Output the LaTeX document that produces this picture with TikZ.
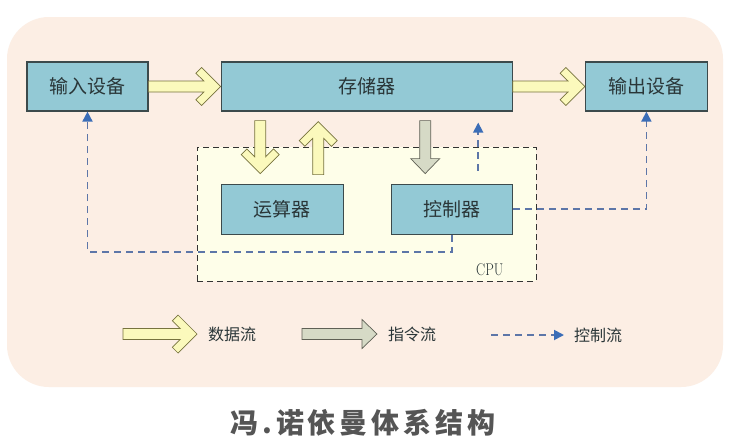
\documentclass[tikz,border=0pt]{standalone}
\usepackage{fontspec}
\usetikzlibrary{positioning, arrows.meta, calc}
\newfontfamily\cjk{Noto Sans CJK SC}
\newfontfamily\titlefont[LetterSpace=14]{Noto Sans CJK SC}
\definecolor{bgpeach}{HTML}{FCEEE4}
\definecolor{cpufill}{HTML}{FEFEE9}
\definecolor{boxblue}{HTML}{93C9D5}
\definecolor{boxline}{HTML}{3C4A4C}
\definecolor{textmain}{HTML}{2A3638}
\definecolor{yfill}{HTML}{FBF9BC}
\definecolor{yline}{HTML}{77733E}
\definecolor{gfill}{HTML}{D6DAC6}
\definecolor{gline}{HTML}{5F6055}
\definecolor{ctrlline}{HTML}{5D76A8}
\definecolor{ctrltip}{HTML}{3B6DB7}
\definecolor{titlegray}{HTML}{555555}

% chevron arrow (data flow) from #1 to #2
\newcommand{\dataflow}[2]{%
  \draw[yflow] let \p1=($(#2)-(#1)$), \n1={veclen(\x1,\y1)}, \n2={atan2(\y1,\x1)} in
    [shift={(#1)}, rotate=\n2]
    (0pt,5.5pt) -- ({\n1-16.8pt},5.5pt) -- ({\n1-24.7pt},13.3pt) -- ({\n1-19pt},19pt)
    -- ({\n1+0pt},0pt) -- ({\n1-19pt},-19pt) -- ({\n1-24.7pt},-13.3pt)
    -- ({\n1-16.8pt},-5.5pt) -- (0pt,-5.5pt) -- cycle;}
% block arrow (instruction flow) from #1 to #2
\newcommand{\instflow}[2]{%
  \draw[gflow] let \p1=($(#2)-(#1)$), \n1={veclen(\x1,\y1)}, \n2={atan2(\y1,\x1)} in
    [shift={(#1)}, rotate=\n2]
    (0pt,5.5pt) -- ({\n1-15pt},5.5pt) -- ({\n1-15pt},14.5pt) -- ({\n1+0pt},0pt)
    -- ({\n1-15pt},-14.5pt) -- ({\n1-15pt},-5.5pt) -- (0pt,-5.5pt) -- cycle;}

\begin{document}
\begin{tikzpicture}[
    x=1pt, y=-1pt,
    unit/.style={rectangle, draw=boxline, fill=boxblue, text=textmain, line width=1.2pt,
                 minimum width=121pt, minimum height=49pt, inner sep=0pt,
                 font=\cjk\fontsize{19}{19}\selectfont},
    cpubox/.style={rectangle, draw=black!80, fill=cpufill, line width=0.9pt,
                   dash pattern=on 6pt off 4pt, minimum width=339pt, minimum height=134pt},
    yflow/.style={draw=yline, fill=yfill, line width=0.7pt, line join=miter},
    gflow/.style={draw=gline, fill=gfill, line width=0.7pt, line join=miter},
    ctrlflow/.style={draw=ctrlline, line width=1.8pt, dash pattern=on 7pt off 5pt,
                     -{Triangle[width=10pt, length=10pt, color=ctrltip]}},
    legtext/.style={inner sep=0pt, text=textmain, font=\cjk\fontsize{16}{16}\selectfont}
  ]
    \useasboundingbox (0,0) rectangle (730,447);
    \fill[white] (0,0) rectangle (730,447);
    \fill[bgpeach, rounded corners=42pt] (7,17) rectangle (723,387);

    \node[cpubox] (cpu) at (366.5,214) {};
    \node[anchor=south east, inner sep=0pt, text=textmain,
          font=\fontsize{17}{17}\selectfont] (cpulbl) at ($(cpu.south east)+(-33,-5)$)
          {\scalebox{0.8}[1]{CPU}};

    \node[unit] (in) at (87.5,86.5) {输入设备};
    \node[unit, minimum width=291pt, right=72pt of in] (mem) {存储器};
    \node[unit, minimum width=122pt, right=72pt of mem] (out) {输出设备};
    \node[unit, minimum width=122pt, minimum height=50pt,
          below=72pt of mem.south west, anchor=north west] (alu) {运算器};
    \node[unit, minimum height=50pt,
          below=72pt of mem.south east, anchor=north east] (ctrl) {控制器};

    % data flow
    \dataflow{in.east}{mem.west}
    \dataflow{mem.east}{out.west}
    \coordinate (m2a) at ($(alu.north)+(-22,-63)$);
    \coordinate (m2a') at ($(alu.north)+(-22,-10)$);
    \coordinate (a2m) at ($(alu.north)+(36,-9)$);
    \coordinate (a2m') at ($(alu.north)+(36,-62)$);
    \dataflow{m2a}{m2a'}
    \dataflow{a2m}{a2m'}

    % instruction flow
    \coordinate (m2c) at ($(ctrl.north)+(-26.5,-63)$);
    \coordinate (m2c') at ($(ctrl.north)+(-26.5,-10)$);
    \instflow{m2c}{m2c'}

    % control flow
    \coordinate (c2m) at ($(ctrl.north)+(26.5,-13)$);
    \coordinate (c2m') at ($(ctrl.north)+(26.5,-61)$);
    \draw[ctrlflow] (c2m) -- (c2m');
    \draw[ctrlflow] (ctrl.south) -- ++(0,17) -| (in.south);
    \draw[ctrlflow] (ctrl.east) -| (out.south);

    % legend
    \coordinate (ly) at (123,334);
    \coordinate (ly') at (197,334);
    \dataflow{ly}{ly'}
    \node[legtext, right=11pt of ly'] (lytxt) {数据流};
    \coordinate (lg) at (302,334);
    \coordinate (lg') at (377,334);
    \instflow{lg}{lg'}
    \node[legtext, right=11pt of lg'] (lgtxt) {指令流};
    \coordinate (lc) at (491,335);
    \coordinate (lc') at (564,335);
    \draw[ctrlflow] (lc) -- (lc');
    \node[legtext, right=10pt of lc'] (lctxt) {控制流};

    \node[text=titlegray, font=\titlefont\bfseries\fontsize{28}{28}\selectfont]
          (title) at (363,423) {冯.诺依曼体系结构};
  \end{tikzpicture}
\end{document}
